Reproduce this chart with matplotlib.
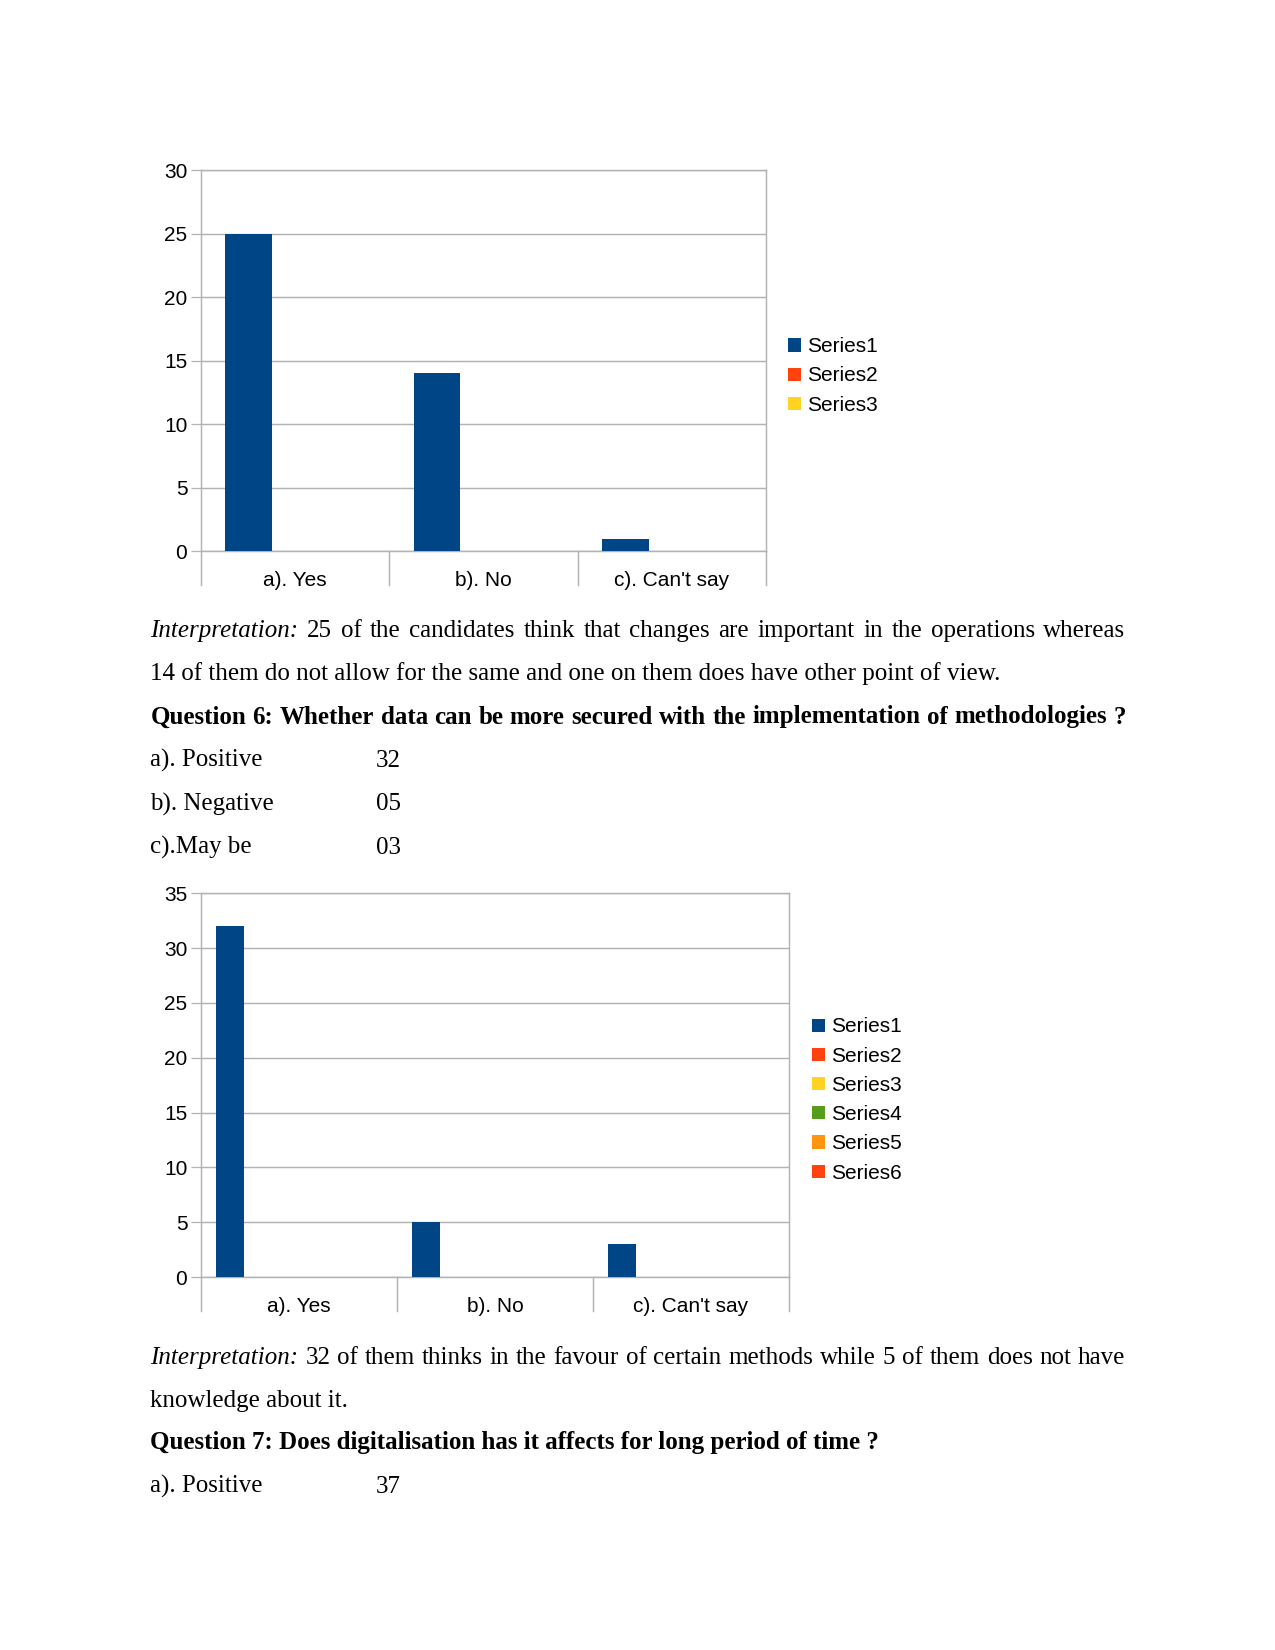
import matplotlib
matplotlib.use("Agg")
import matplotlib.pyplot as plt
from matplotlib.patches import Patch
import matplotlib.transforms as mtransforms

# ---------------- data ----------------
categories = ["a). Yes", "b). No", "c). Can't say"]

chart1_series_names = ["Series1", "Series2", "Series3"]
chart1_series1 = [25, 14, 1]
chart1_series2 = [0, 0, 0]
chart1_series3 = [0, 0, 0]
chart1_yticks = [0, 5, 10, 15, 20, 25, 30]

chart2_series_names = ["Series1", "Series2", "Series3", "Series4", "Series5", "Series6"]
chart2_series1 = [32, 5, 3]
chart2_series2 = [0, 0, 0]
chart2_series3 = [0, 0, 0]
chart2_series4 = [0, 0, 0]
chart2_series5 = [0, 0, 0]
chart2_series6 = [0, 0, 0]
chart2_yticks = [0, 5, 10, 15, 20, 25, 30, 35]

chart1_colors = ["#004586", "#ff420e", "#ffd320"]
chart2_colors = ["#004586", "#ff420e", "#ffd320", "#579d1c", "#ff950e", "#ff420e"]

q6_options = ["a). Positive", "b). Negative", "c).May be"]
q6_counts = ["32", "05", "03"]
q7_options = ["a). Positive"]
q7_counts = ["37"]

# ---------------- figure ----------------
W, H = 1275, 1650
fig = plt.figure(figsize=(8.5, 11), dpi=150)
fig.patch.set_facecolor("white")

SANS = "Liberation Sans"
SERIF = "Liberation Serif"
GRID = "#b3b3b3"


def axes_px(left, top, right, bottom):
    return fig.add_axes([left / W, 1 - bottom / H, (right - left) / W, (bottom - top) / H])


def draw_chart(ax, series_list, names, colors, yticks, ext_frac):
    n = len(series_list)
    x = list(range(len(categories)))
    width = 0.74 / n if n == 3 else 0.846 / n
    handles = []
    for i, (vals, name, col) in enumerate(zip(series_list, names, colors)):
        offs = (i - (n - 1) / 2) * width
        ax.bar([xi + offs for xi in x], vals, width=width, color=col,
               linewidth=0, zorder=3, label=name)
        handles.append(Patch(facecolor=col, edgecolor="none", label=name))
    ax.set_xlim(-0.5, len(categories) - 0.5)
    ax.set_ylim(yticks[0], yticks[-1])
    ax.set_yticks(yticks)
    ax.set_xticks(x)
    ax.set_xticklabels(categories, fontsize=10, family=SANS)
    for lab in ax.get_yticklabels():
        lab.set_fontsize(10)
        lab.set_family(SANS)
    ax.tick_params(axis="x", length=0, pad=9.5)
    ax.tick_params(axis="y", length=5, width=0.6, color=GRID, pad=1.5)
    ax.yaxis.grid(True, color=GRID, linewidth=0.7, zorder=0)
    ax.set_axisbelow(True)
    for sp in ax.spines.values():
        sp.set_color(GRID)
        sp.set_linewidth(0.7)
    trans = mtransforms.blended_transform_factory(ax.transData, ax.transAxes)
    for xs in [-0.5 + k for k in range(len(categories) + 1)]:
        ax.plot([xs, xs], [0, -ext_frac], transform=trans, color=GRID,
                linewidth=0.7, clip_on=False, zorder=1)
    return handles


LEG = dict(frameon=False, prop={"family": SANS, "size": 10}, handlelength=0.6,
           handleheight=0.6, handletextpad=0.3, labelspacing=0.49,
           borderpad=0, borderaxespad=0)

# chart 1
ax1 = axes_px(200.9, 170.4, 765.9, 551.2)
h1 = draw_chart(ax1, [chart1_series1, chart1_series2, chart1_series3],
                chart1_series_names, chart1_colors, chart1_yticks, 34 / 380.8)
fig.legend(handles=h1, loc="center left", bbox_to_anchor=(788 / W, 1 - 376 / H), **LEG)

# chart 2
ax2 = axes_px(200.9, 893.2, 789.0, 1277.1)
h2 = draw_chart(ax2, [chart2_series1, chart2_series2, chart2_series3,
                      chart2_series4, chart2_series5, chart2_series6],
                chart2_series_names, chart2_colors, chart2_yticks, 33.7 / 383.9)
fig.legend(handles=h2, loc="center left", bbox_to_anchor=(812 / W, 1 - 1100 / H), **LEG)

# ---------------- body text ----------------
X0, X1 = 150.4, 1125.5
BASE = 9  # baseline offset from visual centre
fig.canvas.draw()
renderer = fig.canvas.get_renderer()


def put(x, yc, s, **kw):
    kw.setdefault("family", SERIF)
    kw.setdefault("fontsize", 12)
    return fig.text(x / W, 1 - (yc + BASE) / H, s, va="baseline", ha="left", **kw)


def justify(yc, pieces):
    texts = [put(0, yc, w, **kw) for w, kw in pieces]
    widths = [t.get_window_extent(renderer).width for t in texts]
    gap = (X1 - X0 - sum(widths)) / (len(texts) - 1)
    x = X0
    for t, w in zip(texts, widths):
        t.set_x(x / W)
        x += w + gap


def words(s, **kw):
    return [(w, kw) for w in s.split()]


justify(628, words("Interpretation:", style="italic") +
        words("25 of the candidates think that changes are important in the operations whereas"))
put(X0, 671.5, "14 of them do not allow for the same and one on them does have other point of view.")
justify(714.5, words("Question 6: Whether data can be more secured with the implementation of methodologies ?",
                     weight="bold"))
for i, (o, c) in enumerate(zip(q6_options, q6_counts)):
    yc = 758 + i * 43.5
    put(X0, yc, o)
    put(375.6, yc, c)

justify(1355, words("Interpretation:", style="italic") +
        words("32 of them thinks in the favour of certain methods while 5 of them does not have"))
put(X0, 1398, "knowledge about it.")
put(X0, 1440.5, "Question 7: Does digitalisation has it affects for long period of time ?", weight="bold")
for o, c in zip(q7_options, q7_counts):
    put(X0, 1484, o)
    put(375.6, 1484, c)

fig.savefig("out.png", dpi=150, facecolor="white")
